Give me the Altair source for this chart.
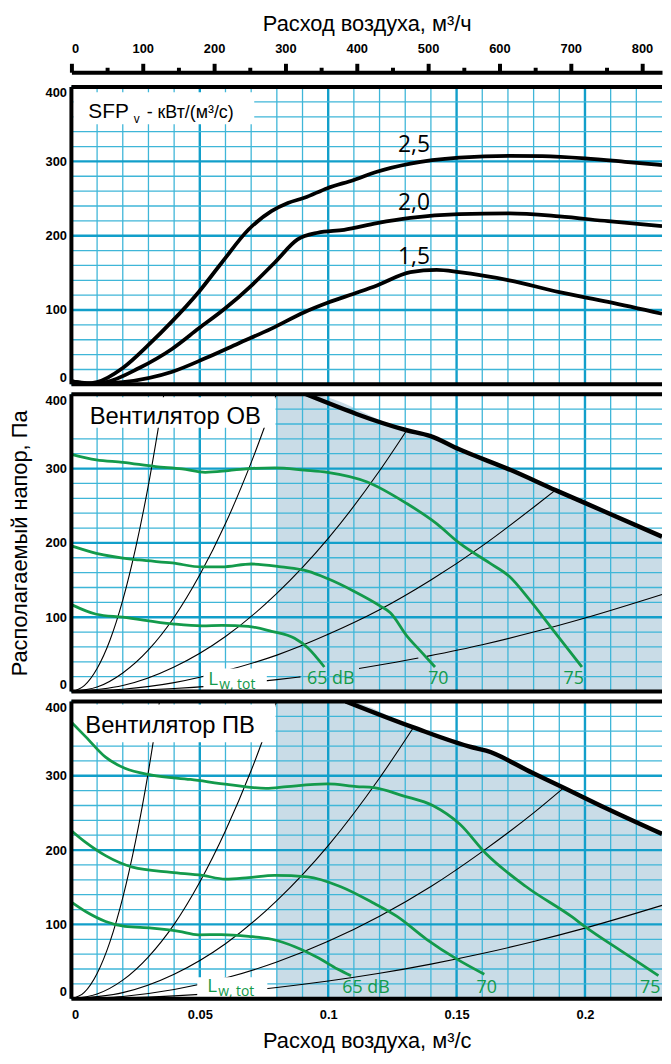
import altair as alt
import pandas as pd

# ------------------------------------------------------------------ data
X_MAX = 0.23      # m3/s visible on the x axis
P_MAX = 400       # Pa

# ---- panel 1: SFP_v curves (m3/s, Pa)
sfp25_q = [0.0, 0.006, 0.010, 0.020, 0.030, 0.039, 0.0495, 0.0586, 0.0689, 0.0779, 0.0843, 0.0907,
           0.0997, 0.110, 0.119, 0.132, 0.151, 0.1705, 0.1834, 0.200, 0.2156, 0.230]
sfp25_p = [4, 1, 3, 22, 53, 84, 124, 164, 208, 233, 244, 251, 264, 275, 286, 297, 305, 307.5, 307,
           304, 299.5, 295]
sfp20_q = [0.0, 0.008, 0.0135, 0.0264, 0.0393, 0.0495, 0.0598, 0.0701, 0.0792, 0.0881, 0.0959,
           0.1062, 0.119, 0.132, 0.151, 0.1705, 0.190, 0.209, 0.230]
sfp20_p = [4, 1, 3, 22, 48, 75, 102, 133, 164, 195, 204, 208, 217, 224, 229, 230, 226, 219.5, 213]
sfp15_q = [0.0, 0.010, 0.020, 0.0393, 0.0521, 0.065, 0.0779, 0.0907, 0.100, 0.110, 0.119, 0.132,
           0.1422, 0.151, 0.1705, 0.190, 0.209, 0.230]
sfp15_p = [4, 1, 3, 17, 35, 55, 75, 97, 110, 122, 133, 151, 154, 151, 140, 124, 111, 95]
sfp_names = ["2,5", "2,0", "1,5"]
sfp_label_q = [0.1334, 0.1334, 0.1334]
sfp_label_p = [322, 244, 171]

# ---- panel 2: fan OV (exhaust)
ov_fan_q = [0.0914, 0.1306, 0.1396, 0.151, 0.1718, 0.1885, 0.2078, 0.230]
ov_fan_p = [400, 351.6, 344, 326, 297, 271, 242, 208.4]
ov_g75_q = [0.0, 0.0097, 0.020, 0.0328, 0.0431, 0.0521, 0.0611, 0.0689, 0.0792, 0.0907, 0.0997,
            0.1152, 0.1306, 0.1422, 0.151, 0.1628, 0.1705, 0.1783, 0.1873, 0.1988]
ov_g75_p = [319, 311.6, 308.4, 302.7, 299.6, 295, 297.3, 300, 301, 298, 295, 282, 253, 226, 200,
            173, 155, 124, 84, 33]
ov_g70_q = [0.0, 0.0097, 0.0264, 0.0393, 0.0508, 0.0586, 0.0701, 0.0817, 0.092, 0.0997, 0.110,
            0.1203, 0.1242, 0.1306, 0.1358, 0.1416]
ov_g70_p = [196, 186, 177, 173, 167.6, 167.6, 171.6, 167.6, 162, 152, 135, 115, 106, 75, 55, 33]
ov_g65_q = [0.0, 0.0097, 0.020, 0.0393, 0.0508, 0.0586, 0.0689, 0.0779, 0.0869, 0.092, 0.0985]
ov_g65_p = [117, 104, 100, 91, 88.4, 89, 87.6, 81, 71.6, 59, 33]
ov_sysA_q = [0, 0.005, 0.010, 0.015, 0.020, 0.025, 0.030, 0.036]
ov_sysA_p = [0, 8, 31, 69, 123, 193, 278, 400]
ov_sysB_q = [0, 0.010, 0.020, 0.030, 0.040, 0.050, 0.060, 0.070, 0.0798]
ov_sysB_p = [0, 6, 25, 56, 100, 157, 226, 308, 400]
ov_sysC_q = [0, 0.020, 0.040, 0.060, 0.080, 0.100, 0.120, 0.1306]
ov_sysC_p = [0, 8, 33, 74, 132, 206, 297, 351.6]
ov_sysD_q = [0, 0.020, 0.040, 0.060, 0.080, 0.100, 0.120, 0.140, 0.160, 0.180, 0.1885]
ov_sysD_p = [0, 3, 12, 28, 49, 77, 110, 150, 196, 248, 271]
ov_sysE1_q = [0, 0.020, 0.040, 0.060, 0.080, 0.0892]
ov_sysE1_p = [0, 1, 4, 9, 16, 19.7]
ov_sysE2_q = [0.112, 0.120, 0.1351]
ov_sysE2_p = [31, 35.6, 45.1]
ov_sysE3_q = [0.1384, 0.160, 0.180, 0.200, 0.230]
ov_sysE3_p = [47.3, 63, 80, 99, 130.7]

# ---- panel 3: fan PV (supply)
pv_fan_q = [0.1068, 0.1332, 0.1564, 0.1615, 0.1795, 0.1911, 0.2078, 0.230]
pv_fan_p = [400, 365, 338, 333.7, 304, 285, 257, 221.8]
pv_g75_q = [0.0, 0.0057, 0.0133, 0.0208, 0.0313, 0.0464, 0.0614, 0.0758, 0.0840, 0.0997, 0.1111,
            0.1178, 0.1292, 0.1409, 0.1512, 0.1615, 0.177, 0.195, 0.200, 0.2151, 0.2286]
pv_g75_p = [372, 352, 325, 310, 301, 295, 288, 283, 285.5, 289, 285.5, 284, 273, 259.6, 235, 195,
            151, 110, 97, 62, 31]
pv_g70_q = [0.0, 0.0057, 0.0133, 0.0238, 0.0389, 0.0509, 0.0599, 0.069, 0.0792, 0.092, 0.1049,
            0.1178, 0.1268, 0.1383, 0.1503, 0.1608]
pv_g70_p = [226, 210, 192.5, 177, 170, 166, 161, 163, 166, 164, 150.7, 128.4, 110.7, 80, 53, 33]
pv_g65_q = [0.0, 0.0057, 0.0133, 0.0208, 0.0313, 0.0419, 0.0494, 0.0584, 0.069, 0.078, 0.087,
            0.0961, 0.1036, 0.1089]
pv_g65_p = [130, 117, 104, 97.3, 95, 90.7, 86, 86.3, 84, 80, 70, 55, 40, 31]
pv_sysA_q = [0, 0.005, 0.010, 0.015, 0.020, 0.025, 0.030, 0.0343]
pv_sysA_p = [0, 8.5, 34, 76.5, 136, 212.5, 306, 400]
pv_sysB_q = [0, 0.010, 0.020, 0.030, 0.040, 0.050, 0.060, 0.070, 0.0799]
pv_sysB_p = [0, 6.3, 25, 56.4, 100, 157, 226, 307, 400]
pv_sysC_q = [0, 0.020, 0.040, 0.060, 0.080, 0.100, 0.120, 0.1332]
pv_sysC_p = [0, 8.2, 33, 74, 132, 206, 297, 365]
pv_sysD_q = [0, 0.020, 0.040, 0.060, 0.080, 0.100, 0.120, 0.140, 0.160, 0.180, 0.1918]
pv_sysD_p = [0, 3.1, 12.4, 27.8, 49.4, 77.2, 111, 151, 198, 250, 284]
pv_sysE_q = [0, 0.020, 0.040, 0.060, 0.080, 0.100, 0.120, 0.140, 0.160, 0.180, 0.200, 0.230]
pv_sysE_p = [0, 1, 3.8, 8.6, 15.2, 23.8, 34.2, 46.6, 60.8, 77, 95, 125.6]

SHADE_START = 0.08   # m3/s, start of the shaded working range

# sound level labels
db_text = ["65 dB", "70", "75"]
ov_db_q = [0.101, 0.1429, 0.1956]
ov_db_p = [17, 17, 17]
pv_db_q = [0.1147, 0.1617, 0.2254]
pv_db_p = [15, 15, 15]

# ---- axes / grid
y_ticks = [0, 100, 200, 300, 400]
x_ticks = [0, 0.05, 0.1, 0.15, 0.2]
top_ticks_m3h = [0, 50, 100, 150, 200, 250, 300, 350, 400, 450, 500, 550, 600, 650, 700, 750, 800]
grid_q = [0.00, 0.01, 0.02, 0.03, 0.04, 0.05, 0.06, 0.07, 0.08, 0.09, 0.10, 0.11, 0.12,
          0.13, 0.14, 0.15, 0.16, 0.17, 0.18, 0.19, 0.20, 0.21, 0.22]
grid_p = [0, 20, 40, 60, 80, 100, 120, 140, 160, 180, 200, 220, 240, 260, 280, 300, 320, 340,
          360, 380, 400]

# ------------------------------------------------------------------ style
GRID_MAJOR = "#129fca"
GRID_MINOR = "#3fb6d8"
SHADE = "#c9dce7"
GREEN = "#139a4b"
AXF = "Liberation Sans"
SANS = "Liberation Sans"
HUMAN = "Open Sans"
W, H = 596, 300

xs = alt.Scale(domain=[0, X_MAX], nice=False, zero=False)
ys = alt.Scale(domain=[0, P_MAX], nice=False, zero=False)


class Panel:
    """Holds the x / y axis used by every layer of a panel (so they merge cleanly)."""

    def __init__(self, xa, ya):
        self.xa, self.ya = xa, ya

    def X(self, field="q"):
        return alt.X(f"{field}:Q", scale=xs, axis=self.xa)

    def Y(self, field="p"):
        return alt.Y(f"{field}:Q", scale=ys, axis=self.ya)

    def line(self, series, color, width):
        rows = []
        for key, q, p in series:
            rows += [{"k": key, "q": a, "p": b} for a, b in zip(q, p)]
        return alt.Chart(pd.DataFrame(rows)).mark_line(
            color=color, strokeWidth=width, interpolate="monotone", clip=True
        ).encode(x=self.X(), y=self.Y(), detail="k:N")

    def vgrid(self):
        return alt.Chart(pd.DataFrame({"q": grid_q})).transform_calculate(
            major="abs(datum.q*20 - round(datum.q*20)) < 0.001"
        ).mark_rule().encode(
            x=self.X(),
            color=alt.condition("datum.major", alt.value(GRID_MAJOR), alt.value(GRID_MINOR)),
            strokeWidth=alt.condition("datum.major", alt.value(2.4), alt.value(1.3)),
        )

    def hgrid(self):
        return alt.Chart(pd.DataFrame({"p": grid_p})).transform_calculate(
            major="datum.p % 100 == 0"
        ).mark_rule().encode(
            y=self.Y(),
            color=alt.condition("datum.major", alt.value(GRID_MAJOR), alt.value(GRID_MINOR)),
            strokeWidth=alt.condition("datum.major", alt.value(2.4), alt.value(1.3)),
        )

    def borders(self):
        base = alt.Chart(pd.DataFrame({"z": [0]}))
        kw = dict(color="black", strokeWidth=4)
        return [
            base.mark_rule(**kw).encode(x=alt.X(datum=0, scale=xs, axis=self.xa)),
            base.mark_rule(**kw).encode(y=alt.Y(datum=0, scale=ys, axis=self.ya)),
            base.mark_rule(**kw).encode(y=alt.Y(datum=P_MAX, scale=ys, axis=self.ya)),
        ]

    def box(self, q0, q1, p0, p1):
        df = pd.DataFrame({"q0": [q0], "q1": [q1], "p0": [p0], "p1": [p1]})
        return alt.Chart(df).mark_rect(color="white").encode(
            x=self.X("q0"), x2="q1:Q", y=self.Y("p0"), y2="p1:Q")

    def text(self, items, **kw):
        df = pd.DataFrame(items, columns=["t", "q", "p"])
        return alt.Chart(df).mark_text(**kw).encode(x=self.X(), y=self.Y(), text="t:N")

    def shade(self, fan_q, fan_p):
        df = pd.DataFrame({"q": [SHADE_START] + fan_q, "p": [P_MAX] + fan_p})
        return alt.Chart(df).mark_area(color=SHADE, interpolate="monotone").encode(
            x=self.X(), y=self.Y(), y2=alt.datum(0))


def y_axis(title=None):
    kw = dict(values=y_ticks, format="d", ticks=False, domain=False, grid=False, labelFlush=True,
              labelFont=AXF, labelFontSize=13, labelFontWeight="bold", labelColor="black",
              labelPadding=5)
    if title:
        kw.update(title=title, titleFont=SANS, titleFontSize=22, titleFontWeight="normal",
                  titleColor="black", titlePadding=14)
    else:
        kw.update(title=None)
    return alt.Axis(**kw)


major_test = "round(datum.value*3600) % 100 == 0"
top_axis = alt.Axis(
    orient="top", values=[v / 3600 for v in top_ticks_m3h],
    labelExpr=f"({major_test}) ? format(round(datum.value*3600), 'd') : ''",
    tickSize=9,
    tickDash={"condition": {"test": major_test, "value": [12, 0]}, "value": [5, 30]},
    tickWidth=4, tickColor="black", domainColor="black", domainWidth=4, offset=15,
    labelFont=AXF, labelFontSize=13, labelFontWeight="bold", labelColor="black",
    labelPadding=8, grid=False,
    title="Расход воздуха, м³/ч", titleFont=SANS, titleFontSize=22, titleFontWeight="normal",
    titleColor="black", titlePadding=7,
)
bottom_axis = alt.Axis(
    orient="bottom", values=x_ticks,
    labelExpr="datum.value == 0 ? '0' : format(datum.value, '.2~f')",
    ticks=False, domain=False, grid=False, labelFont=AXF, labelFontSize=13,
    labelFontWeight="bold", labelColor="black", labelPadding=10,
    title="Расход воздуха, м³/с", titleFont=SANS, titleFontSize=22, titleFontWeight="normal",
    titleColor="black", titlePadding=9,
)

# ------------------------------------------------------------------ panel 1
P1 = Panel(top_axis, y_axis())
p1 = alt.layer(
    P1.vgrid(),
    P1.hgrid(),
    P1.box(0.0008, 0.0712, 350, 393),
    P1.line([("2.5", sfp25_q, sfp25_p), ("2.0", sfp20_q, sfp20_p), ("1.5", sfp15_q, sfp15_p)],
            "black", 3.8),
    P1.text(list(zip(sfp_names, sfp_label_q, sfp_label_p)), font=HUMAN, fontSize=23,
            align="center", baseline="middle", color="black"),
    P1.text([("SFP", 0.0066, 358.7)], font=SANS, fontSize=21, align="left",
            baseline="alphabetic", color="black"),
    P1.text([("v", 0.0243, 351)], font=SANS, fontSize=12, align="left", baseline="alphabetic",
            color="black"),
    P1.text([("- кВт/(м³/с)", 0.0293, 358.7)], font=SANS, fontSize=18, align="left",
            baseline="alphabetic", color="black"),
    *P1.borders(),
).properties(width=W, height=H)


# ------------------------------------------------------------------ panels 2 & 3
def fan_panel(P, fan_q, fan_p, sys_series, green_series, title, title_q, title_p, title_box,
              lw_box, lw_q, lw_p, db_q, db_p):
    return alt.layer(
        P.shade(fan_q, fan_p),
        P.vgrid(),
        P.hgrid(),
        P.line(sys_series, "black", 1.1),
        P.box(*title_box),
        P.box(*lw_box),
        P.line(green_series, GREEN, 2.8),
        P.line([("fan", fan_q, fan_p)], "black", 4.5),
        P.text([(title, title_q, title_p)], font=SANS, fontSize=24, align="left",
               baseline="alphabetic", color="black"),
        P.text([("L", lw_q, lw_p)], font=HUMAN, fontSize=19, align="left",
               baseline="alphabetic", color=GREEN),
        P.text([("w, tot", lw_q, lw_p)], font=HUMAN, fontSize=14, align="left",
               baseline="alphabetic", color=GREEN, dx=11, dy=4),
        P.text(list(zip(db_text, db_q, db_p)), font=HUMAN, fontSize=18, align="center",
               baseline="middle", color=GREEN),
        *P.borders(),
    ).properties(width=W, height=H)


p2 = fan_panel(
    Panel(None, y_axis("Располагаемый напор, Па")),
    ov_fan_q, ov_fan_p,
    [("A", ov_sysA_q, ov_sysA_p), ("B", ov_sysB_q, ov_sysB_p), ("C", ov_sysC_q, ov_sysC_p),
     ("D", ov_sysD_q, ov_sysD_p), ("E1", ov_sysE1_q, ov_sysE1_p),
     ("E2", ov_sysE2_q, ov_sysE2_p), ("E3", ov_sysE3_q, ov_sysE3_p)],
    [("75", ov_g75_q, ov_g75_p), ("70", ov_g70_q, ov_g70_p), ("65", ov_g65_q, ov_g65_p)],
    "Вентилятор ОВ", 0.0071, 360.4, (0.0, 0.0795, 355, 396),
    (0.0514, 0.0761, 0, 31), 0.0533, 9, ov_db_q, ov_db_p,
)
p3 = fan_panel(
    Panel(bottom_axis, y_axis()),
    pv_fan_q, pv_fan_p,
    [("A", pv_sysA_q, pv_sysA_p), ("B", pv_sysB_q, pv_sysB_p), ("C", pv_sysC_q, pv_sysC_p),
     ("D", pv_sysD_q, pv_sysD_p), ("E", pv_sysE_q, pv_sysE_p)],
    [("75", pv_g75_q, pv_g75_p), ("70", pv_g70_q, pv_g70_p), ("65", pv_g65_q, pv_g65_p)],
    "Вентилятор ПВ", 0.0054, 357.3, (0.0, 0.0795, 345, 396),
    (0.049, 0.0763, 0, 29), 0.0529, 8.5, pv_db_q, pv_db_p,
)

chart = alt.vconcat(p1, p2, p3, spacing=10, bounds="flush").configure(
    padding={"left": 0, "top": 0, "right": -1, "bottom": 0}
).configure_view(stroke=None)

chart.save("out.html", embed_options={"renderer": "svg", "actions": False})
